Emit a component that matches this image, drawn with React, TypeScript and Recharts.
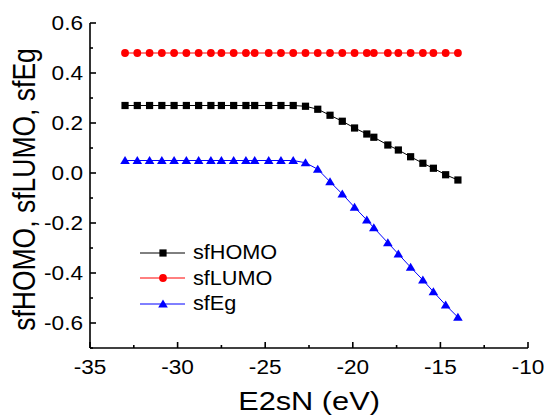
import { LineChart, Line, XAxis, YAxis, Legend } from 'recharts';

// E2sN sweep (eV) and the three scaling factors
const e2sN = [
  -33, -32.3, -31.6, -30.9, -30.2, -29.5, -28.8, -28.1, -27.5, -26.8, -26.1, -25.6, -24.8, -24.1, -23.4,
  -22.7, -22.0, -21.3, -20.6, -19.9, -19.2, -18.8, -18.0, -17.4, -16.7, -16.0, -15.4, -14.7, -14.0,
];
const sfHOMO = [
  0.27, 0.27, 0.27, 0.27, 0.27, 0.27, 0.27, 0.27, 0.27, 0.27, 0.27, 0.27, 0.27, 0.27, 0.27,
  0.267, 0.255, 0.231, 0.207, 0.18, 0.156, 0.143, 0.112, 0.092, 0.065, 0.039, 0.019, -0.007, -0.028,
];
const sfLUMO = [
  0.48, 0.48, 0.48, 0.48, 0.48, 0.48, 0.48, 0.48, 0.48, 0.48, 0.48, 0.48, 0.48, 0.48, 0.48,
  0.48, 0.48, 0.48, 0.48, 0.48, 0.48, 0.48, 0.48, 0.48, 0.48, 0.48, 0.48, 0.48, 0.48,
];
const sfEg = [
  0.05, 0.05, 0.05, 0.05, 0.05, 0.05, 0.05, 0.05, 0.05, 0.05, 0.05, 0.05, 0.05, 0.05, 0.05,
  0.041, 0.015, -0.035, -0.084, -0.137, -0.188, -0.219, -0.279, -0.324, -0.377, -0.428, -0.475, -0.528, -0.577,
];

const xTicks = [-35, -32.5, -30, -27.5, -25, -22.5, -20, -17.5, -15, -12.5, -10];
const yTicks = [-0.7, -0.6, -0.5, -0.4, -0.3, -0.2, -0.1, 0, 0.1, 0.2, 0.3, 0.4, 0.5, 0.6];

const data = e2sN.map((x, i) => ({ x, sfHOMO: sfHOMO[i], sfLUMO: sfLUMO[i], sfEg: sfEg[i] }));

const FONT = '"Liberation Sans", Arial, sans-serif';
const MAJOR = 6;
const MINOR = 3;
const AXIS_W = 1.6;
// the export is a little wider than tall, so text gets stretched sideways
const SX = 1.16;

const isMajorX = (v: number) => Math.abs(v % 5) < 1e-6;
const isMajorY = (v: number) => Math.round(v * 10) % 2 === 0;

// ticks point into the plot, labels sit outside
const BottomTick = ({ x, y, payload }: any) => {
  const major = isMajorX(payload.value);
  return (
    <g>
      <line x1={x} x2={x} y1={y} y2={y - (major ? MAJOR : MINOR)} stroke="#000" strokeWidth={AXIS_W} />
      {major && (
        <text
          transform={`translate(${x} ${y + 25.5}) scale(${SX} 1)`}
          textAnchor="middle"
          fontSize={19.5}
          fontFamily={FONT}
          fill="#000"
        >
          {payload.value}
        </text>
      )}
    </g>
  );
};

const TopTick = ({ x, y, payload }: any) => (
  <line x1={x} x2={x} y1={y} y2={y + (isMajorX(payload.value) ? MAJOR : MINOR)} stroke="#000" strokeWidth={AXIS_W} />
);

const LeftTick = ({ x, y, payload }: any) => {
  const major = isMajorY(payload.value);
  return (
    <g>
      <line x1={x} x2={x + (major ? MAJOR : MINOR)} y1={y} y2={y} stroke="#000" strokeWidth={AXIS_W} />
      {major && (
        <text
          transform={`translate(${x - 7} ${y + 7}) scale(${SX} 1)`}
          textAnchor="end"
          fontSize={19.5}
          fontFamily={FONT}
          fill="#000"
        >
          {payload.value.toFixed(1)}
        </text>
      )}
    </g>
  );
};

const RightTick = ({ x, y, payload }: any) => (
  <line x1={x} x2={x - (isMajorY(payload.value) ? MAJOR : MINOR)} y1={y} y2={y} stroke="#000" strokeWidth={AXIS_W} />
);

const SquareDot = ({ cx, cy }: any) => <rect x={cx - 3.6} y={cy - 3.6} width={7.2} height={7.2} fill="#000" />;
const CircleDot = ({ cx, cy }: any) => <circle cx={cx} cy={cy} r={3.9} fill="#ff0000" />;
const TriangleDot = ({ cx, cy }: any) => (
  <polygon points={`${cx},${cy - 4.6} ${cx + 4.8},${cy + 3.6} ${cx - 4.8},${cy + 3.6}`} fill="#0000ff" />
);

const series = [
  { key: 'sfHOMO', color: '#000000', Dot: SquareDot },
  { key: 'sfLUMO', color: '#ff0000', Dot: CircleDot },
  { key: 'sfEg', color: '#0000ff', Dot: TriangleDot },
];

const LegendBox = () => (
  <div style={{ fontFamily: FONT, fontSize: 19.5, lineHeight: '25.5px' }}>
    {series.map(({ key, color, Dot }) => (
      <div key={key} style={{ display: 'flex', alignItems: 'center', height: 25.5 }}>
        <svg width={50} height={14}>
          <line x1={0} x2={45} y1={7} y2={7} stroke={color} strokeWidth={1} />
          <Dot cx={23} cy={7} />
        </svg>
        <span
          style={{
            marginLeft: 3,
            display: 'inline-block',
            transform: `scaleX(${SX - 0.05})`,
            transformOrigin: 'left center',
          }}
        >
          {key}
        </span>
      </div>
    ))}
  </div>
);

const XTitle = ({ viewBox }: any) => (
  <text
    transform={`translate(${viewBox.x + viewBox.width / 2} ${viewBox.y + 62}) scale(${SX} 1)`}
    textAnchor="middle"
    fontSize={26.5}
    fontFamily={FONT}
    fill="#000"
  >
    E2sN (eV)
  </text>
);

const YTitle = ({ viewBox }: any) => {
  const cx = viewBox.x + 35;
  const cy = viewBox.y + viewBox.height / 2 + 4;
  return (
    <text
      transform={`translate(${cx} ${cy}) scale(${SX} 1) rotate(-90)`}
      textAnchor="middle"
      fontSize={26.5}
      fontFamily={FONT}
      fill="#000"
    >
      sfHOMO, sfLUMO, sfEg
    </text>
  );
};

export default function App() {
  return (
    <div style={{ position: 'absolute', left: 0, top: 0, background: '#fff' }}>
      <LineChart width={544} height={419} data={data} margin={{ top: 23, right: 16, bottom: 0, left: 0 }}>
        <XAxis
          dataKey="x"
          type="number"
          domain={[-35, -10]}
          ticks={xTicks}
          height={71}
          tickLine={false}
          tickSize={0}
          tickMargin={0}
          axisLine={{ stroke: '#000', strokeWidth: AXIS_W }}
          tick={<BottomTick />}
          interval={0}
          allowDataOverflow
          label={{ content: <XTitle /> }}
        />
        <XAxis
          xAxisId="top"
          orientation="top"
          type="number"
          domain={[-35, -10]}
          ticks={xTicks}
          height={0}
          tickLine={false}
          tickSize={0}
          tickMargin={0}
          axisLine={{ stroke: '#000', strokeWidth: AXIS_W }}
          tick={<TopTick />}
          interval={0}
          allowDataOverflow
        />
        <YAxis
          type="number"
          domain={[-0.7, 0.6]}
          ticks={yTicks}
          width={90}
          tickLine={false}
          tickSize={0}
          tickMargin={0}
          axisLine={{ stroke: '#000', strokeWidth: AXIS_W }}
          tick={<LeftTick />}
          interval={0}
          allowDataOverflow
          label={{ content: <YTitle /> }}
        />
        <YAxis
          yAxisId="right"
          orientation="right"
          type="number"
          domain={[-0.7, 0.6]}
          ticks={yTicks}
          width={0}
          tickLine={false}
          tickSize={0}
          tickMargin={0}
          axisLine={{ stroke: '#000', strokeWidth: AXIS_W }}
          tick={<RightTick />}
          interval={0}
          allowDataOverflow
        />
        {series.map(({ key, color, Dot }) => (
          <Line
            key={key}
            dataKey={key}
            stroke={color}
            strokeWidth={1}
            dot={<Dot />}
            activeDot={false}
            isAnimationActive={false}
          />
        ))}
        <Legend
          layout="vertical"
          align="center"
          verticalAlign="middle"
          content={<LegendBox />}
          wrapperStyle={{ position: 'absolute', left: 140, top: 240, width: 'auto' }}
        />
      </LineChart>
    </div>
  );
}
